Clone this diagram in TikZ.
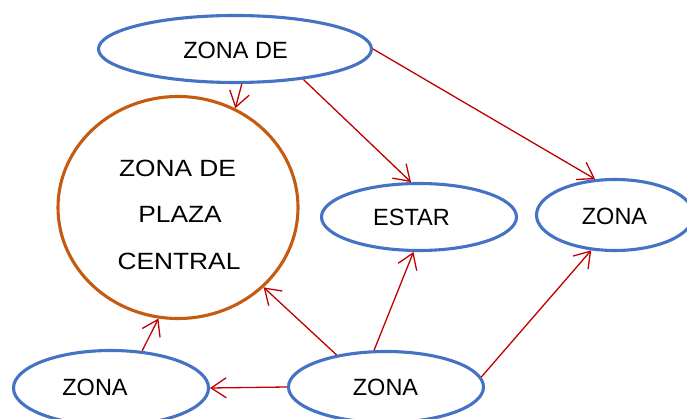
\documentclass[tikz,border=0pt]{standalone}
\usepackage{fontspec}
\setmainfont{Liberation Sans}
\usetikzlibrary{shapes.geometric,arrows.meta}
\definecolor{zblue}{HTML}{4472C4}
\definecolor{zorange}{HTML}{C55A11}
\definecolor{zred}{HTML}{C00000}
\begin{document}
\begin{tikzpicture}[x=1pt,y=-1pt,
  zone/.style={ellipse,draw=zblue,line width=3.1pt,inner sep=0pt},
  central/.style={ellipse,draw=zorange,line width=3.1pt,inner sep=0pt},
  lbl/.style={font=\fontsize{23.5}{46}\selectfont,inner sep=0pt,anchor=base},
  arr/.style={draw=zred,line width=1.3pt,-{Straight Barb[length=15pt,width=20pt,line width=1.3pt]}}
]
\useasboundingbox (0,0) rectangle (687,419);
\clip (0,0) rectangle (687,419);
% ellipses
\node[zone,minimum width=273pt,minimum height=67pt] (top) at (235,49) {};
\node[central,minimum width=240pt,minimum height=222pt] (circ) at (178,207.5) {};
\node[zone,minimum width=195pt,minimum height=67pt] (estar) at (419,217) {};
\node[zone,minimum width=157pt,minimum height=71pt] (right) at (615,215) {};
\node[zone,minimum width=195pt,minimum height=75pt] (bl) at (111,388) {};
\node[zone,minimum width=195pt,minimum height=71pt] (bm) at (386,387) {};
% texts
\node[lbl] (ttop) at (235.5,58.5) {ZONA DE};
\node[lbl] (tc1) at (177.5,177) {\scalebox{1.12}[1]{ZONA DE}};
\node[lbl] (tc2) at (180,222.5) {\scalebox{1.12}[1]{PLAZA}};
\node[lbl] (tc3) at (179,269.5) {\scalebox{1.12}[1]{CENTRAL}};
\node[lbl] (testar) at (411.5,225.5) {ESTAR};
\node[lbl] (tright) at (614.5,225) {ZONA};
\node[lbl] (tbl) at (95,395) {ZONA};
\node[lbl] (tbm) at (385.5,395) {ZONA};
% arrows
\draw[arr] (top.-79) -- (circ.60.8);
\draw[arr] (top.-24) -- (estar.103);
\draw[arr] (top.0) -- (right.119);
\draw[arr] (bm.147) -- (circ.-43.4);
\draw[arr] (bl.50) -- (circ.-100.4);
\draw[arr] (bm.west) -- (bl.east);
\draw[arr] (bm.108) -- (estar.-99.5);
\draw[arr] (bm.6.4) -- (right.-124.7);
\end{tikzpicture}
\end{document}
